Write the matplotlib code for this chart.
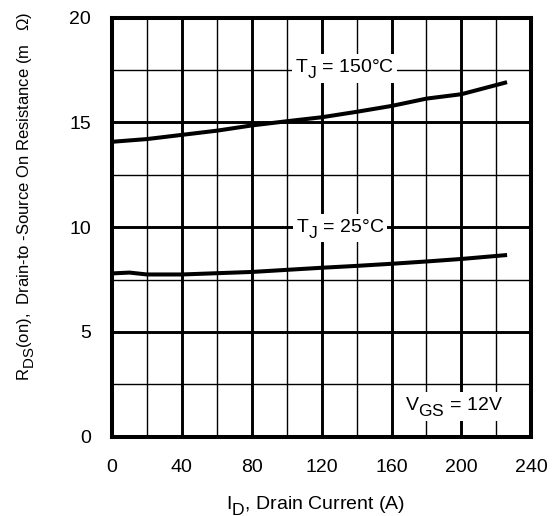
import numpy as np
import matplotlib
matplotlib.use("Agg")
import matplotlib.pyplot as plt
import matplotlib._mathtext as mathtext_core
from matplotlib.ticker import MultipleLocator

# datasheet style: subscripts almost as big as the main text and dropped lower
mathtext_core.SHRINK_FACTOR = 0.9
mathtext_core.FontConstantsBase.sub1 = 0.6

plt.rcParams['font.family'] = ['Liberation Sans', 'DejaVu Sans']
plt.rcParams['mathtext.fontset'] = 'custom'
plt.rcParams['mathtext.rm'] = 'Liberation Sans'
plt.rcParams['mathtext.it'] = 'Liberation Sans'

# drain current (A) and on resistance (mOhm)
id_150 = [0, 20, 40, 60, 80, 100, 120, 140, 160, 180, 200, 225]
r_150 = [14.07, 14.2, 14.4, 14.6, 14.85, 15.05, 15.24, 15.5, 15.78, 16.13, 16.34, 16.89]

id_25 = [0, 10, 20, 40, 60, 80, 100, 120, 140, 160, 180, 200, 225]
r_25 = [7.79, 7.83, 7.74, 7.74, 7.8, 7.86, 7.96, 8.06, 8.15, 8.25, 8.36, 8.48, 8.66]

x_ticks = [0, 40, 80, 120, 160, 200, 240]
y_ticks = [0, 5, 10, 15, 20]

W, H = 553, 516
fig = plt.figure(figsize=(W / 100, H / 100), dpi=100)
ax = fig.add_axes([112 / W, 1 - 436.7 / H, 419.3 / W, 419.2 / H])

ax.set_xlim(0, 240)
ax.set_ylim(0, 20)
ax.set_xticks(x_ticks)
ax.set_yticks(y_ticks)
ax.xaxis.set_minor_locator(MultipleLocator(20))
ax.yaxis.set_minor_locator(MultipleLocator(2.5))
ax.grid(True, which='major', color='black', lw=2.1)
ax.grid(True, which='minor', color='black', lw=1.0)
ax.set_axisbelow(True)
ax.tick_params(which='both', length=0, labelsize=14)
ax.tick_params(axis='x', pad=16)
ax.tick_params(axis='y', pad=15)
for s in ax.spines.values():
    s.set_linewidth(2.9)

ax.plot(id_150, r_150, color='black', lw=2.9, zorder=3)
ax.plot(id_25, r_25, color='black', lw=2.9, zorder=3)

box = dict(facecolor='white', edgecolor='none', pad=2)
ax.text(133, 17.4, r'T$_\mathregular{J}$ = 150°C', fontsize=14, ha='center', va='baseline',
        bbox=box, zorder=4)
ax.text(130.5, 9.78, r'T$_\mathregular{J}$ = 25°C', fontsize=14, ha='center', va='baseline',
        bbox=box, zorder=4)
ax.text(196, 1.27, r'V$_\mathregular{GS}$ = 12V', fontsize=14, ha='center', va='baseline',
        bbox=box, zorder=4)

fig.text(315 / W, 1 - 509.3 / H, r'I$_\mathregular{D}$, Drain Current (A)', fontsize=14,
         ha='center', va='baseline')
fig.text(30 / W, 1 - 196.5 / H,
         r'R$_\mathregular{DS}$(on),  Drain-to -Source On Resistance (m   Ω)',
         fontsize=12, ha='center', va='baseline', rotation=90, rotation_mode='anchor')

fig.savefig('out.png', dpi=100)
